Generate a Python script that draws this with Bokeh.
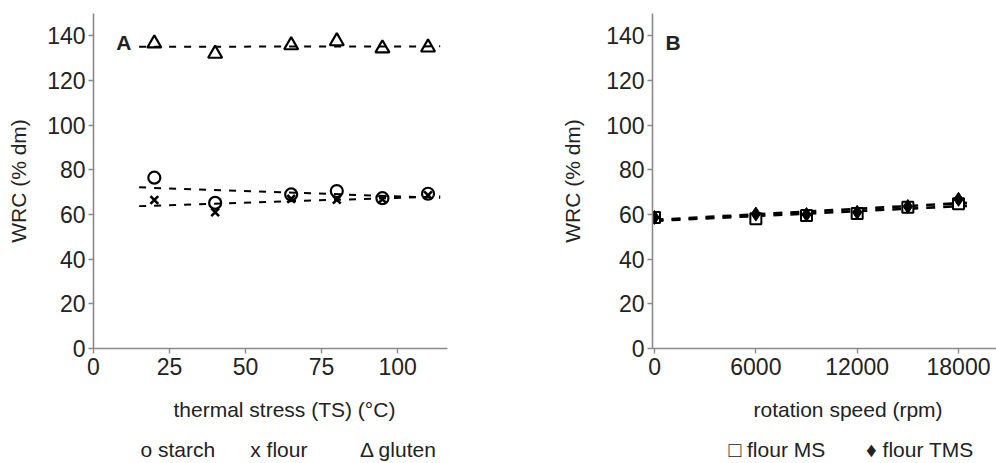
import numpy as np
from bokeh.plotting import figure
from bokeh.layouts import row
from bokeh.models import Label, Range1d, FixedTicker, Title
from bokeh.embed import file_html
from bokeh.resources import INLINE

# ---------------- data ----------------
ts = [20, 40, 65, 80, 95, 110]                       # thermal stress (°C)
starch = [76.5, 65.2, 69.0, 70.5, 67.3, 69.3]
flour = [66.5, 61.0, 67.0, 66.6, 66.8, 68.6]
gluten = [136.6, 132.0, 135.8, 137.6, 134.4, 134.8]
ts_fit_range = [15, 114]

rpm = [0, 6000, 9000, 12000, 15000, 18000]          # rotation speed (rpm)
flour_ms = [58.7, 58.1, 59.5, 60.4, 63.2, 64.8]
flour_tms = [58.7, 60.2, 60.0, 61.0, 63.6, 66.8]
rpm_fit_range = [0, 18500]

y_ticks = [0, 20, 40, 60, 80, 100, 120, 140]
ts_ticks = [0, 25, 50, 75, 100]
rpm_ticks = [0, 6000, 12000, 18000]

FONT = "Liberation Sans"
TXT = "#222222"
AX = "#8a8a8a"
SP = "\u00a0"


def trend(x, y, xr):
    k, b = np.polyfit(x, y, 1)
    xs = np.array(xr, dtype=float)
    return xs, k * xs + b


def style(p, xticks, ylabel_standoff):
    p.outline_line_color = None
    p.xgrid.visible = False
    p.ygrid.visible = False
    p.yaxis.ticker = FixedTicker(ticks=y_ticks)
    p.xaxis.ticker = FixedTicker(ticks=xticks)
    for ax in (p.xaxis, p.yaxis):
        ax.axis_line_color = AX
        ax.axis_line_width = 1.6
        ax.major_tick_line_color = AX
        ax.major_tick_line_width = 1.4
        ax.major_tick_out = 5
        ax.major_tick_in = 0
        ax.minor_tick_line_color = None
        ax.major_label_text_font = FONT
        ax.major_label_text_font_size = "23px"
        ax.major_label_text_color = TXT
    p.yaxis.major_label_standoff = 3
    p.xaxis.major_label_standoff = 4
    p.yaxis.axis_label = "WRC (% dm)"
    p.yaxis.axis_label_standoff = ylabel_standoff
    p.yaxis.axis_label_text_font = FONT
    p.yaxis.axis_label_text_font_size = "21px"
    p.yaxis.axis_label_text_font_style = "normal"
    p.yaxis.axis_label_text_color = TXT


def below_text(p, s, offset, standoff):
    p.add_layout(Title(text=s, align="left", offset=offset, standoff=standoff,
                       text_font=FONT, text_font_size="21px",
                       text_font_style="normal", text_color=TXT), "below")


# ---------------- panel A ----------------
pA = figure(width=540, height=463, output_backend="svg", toolbar_location=None,
            min_border_left=93, min_border_right=93, min_border_top=13,
            min_border_bottom=115,
            x_range=Range1d(0, 116.4), y_range=Range1d(0, 150))
style(pA, ts_ticks, 14)

for ys in (starch, flour, gluten):
    fx, fy = trend(ts, ys, ts_fit_range)
    pA.line(fx, fy, line_color="black", line_width=2, line_dash="7 8")

pA.scatter(ts, gluten, marker="triangle", size=14, fill_color=None,
           line_color="black", line_width=2.2)
pA.scatter(ts, starch, marker="circle", size=12, fill_color=None,
           line_color="black", line_width=2.2)
pA.scatter(ts, flour, marker="x", size=11, line_color="black", line_width=2.6)

pA.add_layout(Label(x=10, y=137, text="A", text_font=FONT, text_font_size="21px",
                    text_color=TXT, text_font_style="bold", text_align="center",
                    text_baseline="middle"))
below_text(pA, "thermal stress (TS) (°C)", 80, 36)
below_text(pA, "o starch" + SP * 6 + "x flour" + SP * 9 + "Δ gluten", 47, -6)

# ---------------- panel B ----------------
pB = figure(width=456, height=463, output_backend="svg", toolbar_location=None,
            min_border_left=112, min_border_right=0, min_border_top=13,
            min_border_bottom=115,
            x_range=Range1d(-120, 20250), y_range=Range1d(0, 150))
style(pB, rpm_ticks, 19)

for ys in (flour_ms, flour_tms):
    fx, fy = trend(rpm, ys, rpm_fit_range)
    pB.line(fx, fy, line_color="black", line_width=2.6, line_dash="9 8")

pB.scatter(rpm, flour_ms, marker="square", size=11, fill_color="white",
           line_color="black", line_width=2)
pB.scatter(rpm, flour_tms, marker="diamond", size=14, fill_color="black",
           line_color="black", line_width=1)

pB.add_layout(Label(x=1100, y=137, text="B", text_font=FONT, text_font_size="21px",
                    text_color=TXT, text_font_style="bold", text_align="center",
                    text_baseline="middle"))
below_text(pB, "rotation speed (rpm)", 101, 36)
below_text(pB, "□ flour MS" + SP * 7 + "♦ flour TMS", 76, -6)

layout = row(pA, pB)
open("out.html", "w").write(file_html(layout, INLINE))
